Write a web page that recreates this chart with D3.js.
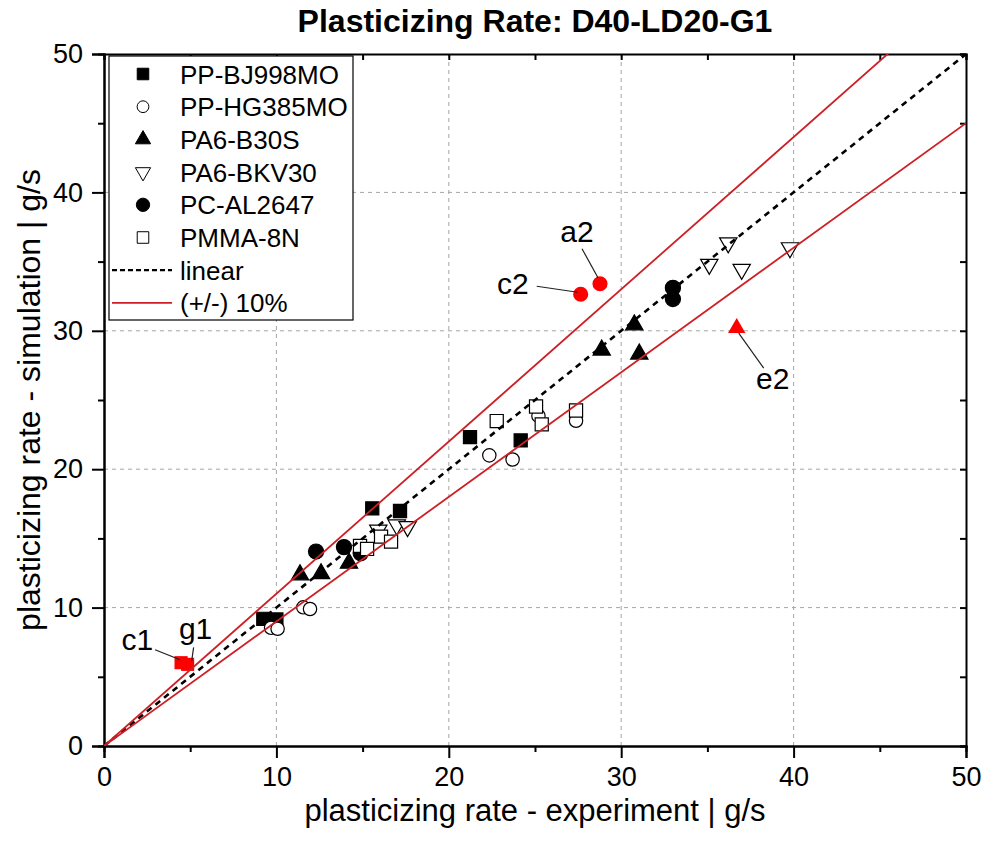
<!DOCTYPE html>
<html>
    <head>
        <title>Plasticizing Rate</title>
        <meta charset="UTF-8">
        <script src="https://d3js.org/d3.v7.min.js"></script>
        <style>
            body { margin: 0; background: #fff; }
            svg { font-family: "Liberation Sans", Arial, sans-serif; }
            .grid line { stroke: #a6a6a6; stroke-width: 1; stroke-dasharray: 4,4; }
            .axis path, .axis line { stroke: #000; stroke-width: 2; }
            .axis text { font-size: 27px; fill: #000; }
        </style>
    </head>
    <body>
        <svg width="990" height="852"></svg>
        <script>
            // experiment (x) vs simulation (y), g/s
            var ppBJ998MO = [[9.24, 9.19], [10.0, 9.14], [15.56, 17.17], [17.17, 16.98], [21.23, 22.32], [24.17, 22.08]];
            var ppHG385MO = [[9.69, 8.54], [10.07, 8.47], [11.56, 10.02], [11.95, 9.9], [22.35, 21.0], [23.7, 20.7], [25.2, 23.85], [27.38, 23.5]];
            var pa6B30S   = [[11.37, 12.37], [12.59, 12.45], [14.21, 13.21], [28.87, 28.61], [30.76, 30.43], [31.05, 28.32]];
            var pa6BKV30  = [[15.91, 15.6], [16.98, 15.97], [17.61, 15.85], [35.11, 34.8], [36.21, 36.35], [36.99, 34.44], [39.79, 36.0]];
            var pcAL2647  = [[12.3, 14.05], [13.92, 14.37], [14.89, 13.93], [33.0, 33.1], [33.0, 32.3]];
            var pmma8N    = [[14.85, 14.46], [15.26, 14.24], [16.07, 15.13], [16.65, 14.77], [22.78, 23.48], [25.06, 24.53], [25.39, 23.24], [27.38, 24.24]];

            // highlighted outliers
            var outlierNames = ['c1', 'g1', 'c2', 'a2', 'e2'];
            var outlierX = [4.47, 4.85, 27.65, 28.77, 36.7];
            var outlierY = [6.02, 5.9, 32.64, 33.4, 30.2];
            var outlierShape = ['square', 'square', 'circle', 'circle', 'triangle'];

            var seriesNames = ['PP-BJ998MO', 'PP-HG385MO', 'PA6-B30S', 'PA6-BKV30', 'PC-AL2647', 'PMMA-8N'];
            var refFactors = [1, 1.1, 0.9];   // linear, +10%, -10%
            var xTicks = [0, 10, 20, 30, 40, 50];
            var yTicks = [0, 10, 20, 30, 40, 50];
            var minorTicks = [5, 15, 25, 35, 45];

            var series = [
                { name: seriesNames[0], values: ppBJ998MO, shape: 'square',   filled: true },
                { name: seriesNames[1], values: ppHG385MO, shape: 'circle',   filled: false },
                { name: seriesNames[2], values: pa6B30S,   shape: 'triangle', filled: true },
                { name: seriesNames[3], values: pa6BKV30,  shape: 'tridown',  filled: false },
                { name: seriesNames[4], values: pcAL2647,  shape: 'bigcircle', filled: true },
                { name: seriesNames[5], values: pmma8N,    shape: 'square',   filled: false }
            ];

            var svg = d3.select('svg'),
                margin = { top: 54, right: 24, bottom: 106, left: 104 },
                width = svg.attr('width') - margin.left - margin.right,
                height = svg.attr('height') - margin.top - margin.bottom,
                g = svg.append('g').attr('transform', 'translate(' + margin.left + ',' + margin.top + ')');

            var x = d3.scaleLinear().domain([0, 50]).range([0, width]),
                y = d3.scaleLinear().domain([0, 50]).range([height, 0]);

            function symbolPath(shape, scale) {
                var s = scale || 1;
                if (shape === 'square') return d3.symbol(d3.symbolSquare, 172 * s * s)();
                if (shape === 'circle') return d3.symbol(d3.symbolCircle, 140 * s * s)();
                if (shape === 'bigcircle') return d3.symbol(d3.symbolCircle, 180 * s * s)();
                return d3.symbol(d3.symbolTriangle, 130 * s * s)();
            }
            function symbolTransform(shape, px, py) {
                return 'translate(' + px + ',' + py + ')' + (shape === 'tridown' ? ' rotate(180)' : '');
            }

            svg.append('clipPath').attr('id', 'clip')
              .append('rect').attr('width', width).attr('height', height);

            // grid
            g.append('g').attr('class', 'grid')
              .selectAll('line').data(xTicks.slice(1, -1)).enter().append('line')
                .attr('x1', function(d) { return x(d); }).attr('x2', function(d) { return x(d); })
                .attr('y1', 0).attr('y2', height);
            g.append('g').attr('class', 'grid')
              .selectAll('line').data(yTicks.slice(1, -1)).enter().append('line')
                .attr('y1', function(d) { return y(d); }).attr('y2', function(d) { return y(d); })
                .attr('x1', 0).attr('x2', width);

            // axes
            g.append('g').attr('class', 'axis')
               .attr('transform', 'translate(0,' + height + ')')
               .call(d3.axisBottom(x).tickValues(xTicks).tickSize(12).tickPadding(9));
            g.append('g').attr('class', 'axis')
               .attr('transform', 'translate(0,' + height + ')')
               .call(d3.axisBottom(x).tickValues(minorTicks).tickSize(6).tickFormat(''));
            g.append('g').attr('class', 'axis')
               .call(d3.axisLeft(y).tickValues(yTicks).tickSize(12).tickPadding(9));
            g.append('g').attr('class', 'axis')
               .call(d3.axisLeft(y).tickValues(minorTicks).tickSize(6).tickFormat(''));
            g.append('g').attr('class', 'axis')
               .call(d3.axisTop(x).tickValues(xTicks.concat(minorTicks)).tickSize(-6).tickFormat(''));
            g.append('g').attr('class', 'axis')
               .attr('transform', 'translate(' + width + ',0)')
               .call(d3.axisRight(y).tickValues(yTicks.concat(minorTicks)).tickSize(-6).tickFormat(''));

            g.selectAll('.axis .tick text').attr('fill', '#000');

            // axis titles
            g.append('text')
              .attr('x', width / 2).attr('y', height + 75)
              .style('text-anchor', 'middle').style('font-size', '31px')
              .text('plasticizing rate - experiment | g/s');
            svg.append('text')
              .attr('transform', 'translate(40,' + (margin.top + height / 2) + ') rotate(-90)')
              .style('text-anchor', 'middle').style('font-size', '32px')
              .text('plasticizing rate - simulation | g/s');
            svg.append('text')
              .attr('x', margin.left + width / 2).attr('y', 32)
              .style('text-anchor', 'middle').style('font-size', '32px').style('font-weight', 'bold')
              .text('Plasticizing Rate: D40-LD20-G1');

            // data points
            series.forEach(function(s) {
                g.append('g').selectAll('path').data(s.values).enter().append('path')
                  .attr('d', symbolPath(s.shape))
                  .attr('transform', function(d) { return symbolTransform(s.shape, x(d[0]), y(d[1])); })
                  .attr('fill', s.filled ? '#000' : '#fff')
                  .attr('stroke', '#000').attr('stroke-width', 1.2);
            });

            var outliers = outlierNames.map(function(n, i) {
                return { name: n, x: outlierX[i], y: outlierY[i], shape: outlierShape[i] };
            });
            g.append('g').selectAll('path').data(outliers).enter().append('path')
              .attr('d', function(d) { return symbolPath(d.shape === 'circle' ? 'bigcircle' : d.shape); })
              .attr('transform', function(d) { return symbolTransform(d.shape, x(d.x), y(d.y)); })
              .attr('fill', '#ff0000');

            // reference lines
            var line = d3.line().x(function(d) { return x(d[0]); }).y(function(d) { return y(d[1]); });
            g.append('g').attr('clip-path', 'url(#clip)')
              .selectAll('path').data(refFactors).enter().append('path')
                .attr('d', function(f) { return line([[0, 0], [50, 50 * f]]); })
                .attr('fill', 'none')
                .attr('stroke', function(f) { return f === 1 ? '#000' : '#cc2026'; })
                .attr('stroke-width', function(f) { return f === 1 ? 2.6 : 1.8; })
                .attr('stroke-dasharray', function(f) { return f === 1 ? '6,5' : null; });

            // outlier labels with leader lines (pixel offsets from the point)
            var labelOffsets = {
                c1: { l: [-1, -3, -26, -13], t: [-28, -13], anchor: 'end' },
                g1: { l: [4, -3, 6, -17], t: [8, -25], anchor: 'middle' },
                c2: { l: [-3, -2, -44, -8], t: [-52, 0], anchor: 'end' },
                a2: { l: [-2, -6, -18, -35], t: [-23, -42], anchor: 'middle' },
                e2: { l: [2, 5, 27, 40], t: [36, 61], anchor: 'middle' }
            };
            outliers.forEach(function(d) {
                var o = labelOffsets[d.name], px = x(d.x), py = y(d.y);
                g.append('line')
                  .attr('x1', px + o.l[0]).attr('y1', py + o.l[1])
                  .attr('x2', px + o.l[2]).attr('y2', py + o.l[3])
                  .attr('stroke', '#222').attr('stroke-width', 1.2);
                g.append('text')
                  .attr('x', px + o.t[0]).attr('y', py + o.t[1])
                  .style('text-anchor', o.anchor).style('font-size', '30px')
                  .text(d.name);
            });

            // legend
            var legend = g.append('g').attr('transform', 'translate(5,2)');
            legend.append('rect').attr('width', 244).attr('height', 264)
              .attr('fill', '#fff').attr('stroke', '#000').attr('stroke-width', 1.2);
            var rowH = 32.7, row0 = 18;
            series.forEach(function(s, i) {
                var cy = row0 + i * rowH;
                legend.append('path')
                  .attr('d', symbolPath(s.shape, 0.88))
                  .attr('transform', symbolTransform(s.shape, 34, cy))
                  .attr('fill', s.filled ? '#000' : '#fff')
                  .attr('stroke', '#000').attr('stroke-width', 1);
                legend.append('text').attr('x', 71).attr('y', cy + 9.5)
                  .style('font-size', '26px').text(s.name);
            });
            ['linear', '(+/-) 10%'].forEach(function(name, j) {
                var cy = row0 + (6 + j) * rowH;
                legend.append('line').attr('x1', 3).attr('x2', 63).attr('y1', cy).attr('y2', cy)
                  .attr('stroke', j === 0 ? '#000' : '#cc2026')
                  .attr('stroke-width', j === 0 ? 2.2 : 1.8)
                  .attr('stroke-dasharray', j === 0 ? '5,3' : null);
                legend.append('text').attr('x', 71).attr('y', cy + 9.5)
                  .style('font-size', '26px').text(name);
            });
        </script>
    </body>
</html>
